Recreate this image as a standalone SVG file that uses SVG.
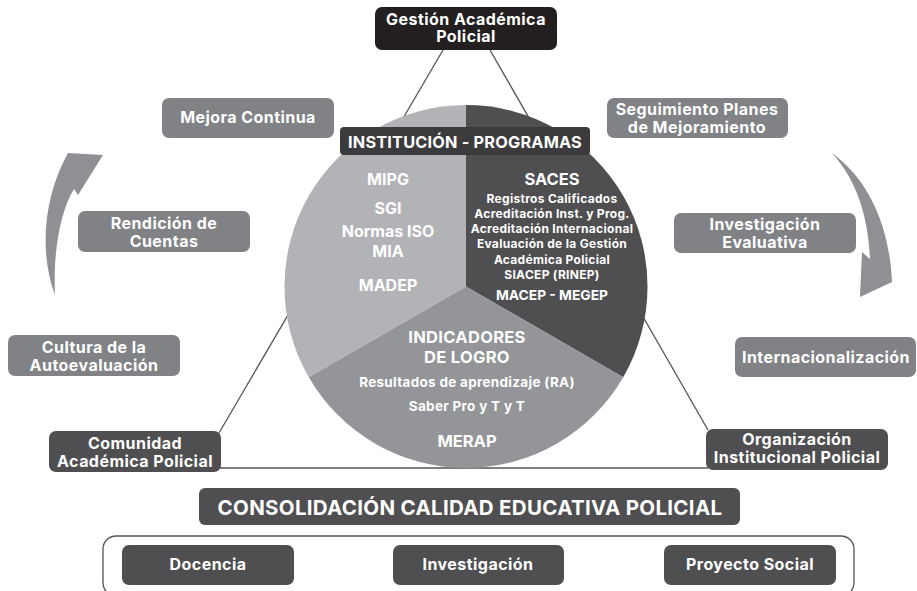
<svg xmlns="http://www.w3.org/2000/svg" width="917" height="591" viewBox="0 0 917 591">
<style>
text{font-family:Inter,"Liberation Sans",sans-serif;font-weight:700;fill:#fff;text-anchor:middle}
.t15{font-size:16px;letter-spacing:0.45px}
.sm{font-size:12px;letter-spacing:0.3px}
.mid{fill:#808285}
.dk{fill:#4f4f51}
.conn{stroke:#555;stroke-width:1.3;fill:none}
.arrow{fill:#8e9093}
</style>
<rect width="917" height="591" fill="#fff"/>
<g id="connectors">
<line class="conn" x1="443" y1="50" x2="219" y2="433"/>
<line class="conn" x1="490" y1="50" x2="708" y2="430"/>
<line class="conn" x1="220" y1="468" x2="708" y2="468"/>
<path class="arrow" d="M55,295 C40,255 42,200 68,153 L103,155 L78,195 L74,189 C60,212 53,252 55,295 Z"/>
<path class="arrow" d="M832,153 C872,182 890,232 892,282 L860,297 L862,252 L870,259 C868,214 856,180 832,153 Z"/>
<rect x="103" y="536" width="751" height="60" rx="13" fill="none" stroke="#555" stroke-width="1.3"/>
</g>
<g id="pie">
<path d="M466,286.5 L466,105 A181.5,181.5 0 0 0 308.8,377.25 Z" fill="#b1b3b6"/>
<path d="M466,286.5 L466,105 A181.5,181.5 0 0 1 623.2,377.25 Z" fill="#4f4f51"/>
<path d="M466,286.5 L308.8,377.25 A181.5,181.5 0 0 0 623.2,377.25 Z" fill="#939598"/>
<text x="388" y="185" font-size="16">MIPG</text>
<text x="388" y="214" font-size="16">SGI</text>
<text x="388" y="237" font-size="16">Normas ISO</text>
<text x="388" y="257" font-size="16">MIA</text>
<text x="388" y="291" font-size="16">MADEP</text>
<text x="552" y="185" font-size="16.5">SACES</text>
<text class="sm" x="552" y="203">Registros Calificados</text>
<text class="sm" x="552" y="218">Acreditación Inst. y Prog.</text>
<text class="sm" x="552" y="233">Acreditación Internacional</text>
<text class="sm" x="552" y="248">Evaluación de la Gestión</text>
<text class="sm" x="552" y="264">Académica Policial</text>
<text class="sm" x="552" y="279">SIACEP (RINEP)</text>
<text x="552" y="300" font-size="13.8">MACEP - MEGEP</text>
<text x="467" y="343" font-size="16.5" letter-spacing="0.3">INDICADORES</text>
<text x="467" y="363" font-size="16.5" letter-spacing="0.3">DE LOGRO</text>
<text x="467" y="387" font-size="13.5" letter-spacing="0.3">Resultados de aprendizaje (RA)</text>
<text x="467" y="411" font-size="13.5" letter-spacing="0.3">Saber Pro y T y T</text>
<text x="467" y="447" font-size="16.5">MERAP</text>
</g>
<g id="gestion"><rect x="375" y="7" width="182" height="43" rx="7" fill="#231f20"/><text class="t15" x="466" y="25">Gestión Académica</text><text class="t15" x="466" y="42">Policial</text></g>
<g id="institucion"><rect x="340" y="127" width="250" height="28" rx="4" fill="#3b3b3d"/><text x="465" y="148" font-size="16.3" letter-spacing="0.2">INSTITUCIÓN - PROGRAMAS</text></g>
<g id="mejora"><rect class="mid" x="162" y="98" width="172" height="40" rx="7"/><text class="t15" x="248" y="123">Mejora Continua</text></g>
<g id="rendicion"><rect class="mid" x="78" y="211" width="172" height="41" rx="7"/><text class="t15" x="164" y="229">Rendición de</text><text class="t15" x="164" y="247">Cuentas</text></g>
<g id="cultura"><rect class="mid" x="8" y="335" width="172" height="41" rx="7"/><text class="t15" x="94" y="353">Cultura de la</text><text class="t15" x="94" y="371">Autoevaluación</text></g>
<g id="comunidad"><rect class="dk" x="49" y="431" width="172" height="41" rx="7"/><text class="t15" x="135" y="449">Comunidad</text><text class="t15" x="135" y="467">Académica Policial</text></g>
<g id="seguimiento"><rect class="mid" x="607" y="98" width="181" height="40" rx="7"/><text class="t15" x="697" y="115">Seguimiento Planes</text><text class="t15" x="697" y="133">de Mejoramiento</text></g>
<g id="investigacion-evaluativa"><rect class="mid" x="674" y="213" width="182" height="40" rx="7"/><text class="t15" x="765" y="230">Investigación</text><text class="t15" x="765" y="248">Evaluativa</text></g>
<g id="internacionalizacion"><rect class="mid" x="735" y="337" width="181" height="40" rx="7"/><text class="t15" x="826" y="363">Internacionalización</text></g>
<g id="organizacion"><rect class="dk" x="706" y="429" width="182" height="41" rx="7"/><text class="t15" x="797" y="445">Organización</text><text class="t15" x="797" y="463">Institucional Policial</text></g>
<g id="consolidacion"><rect class="dk" x="199" y="488" width="541" height="37" rx="6"/><text x="470" y="515" font-size="20.5" letter-spacing="0.3">CONSOLIDACIÓN CALIDAD EDUCATIVA POLICIAL</text></g>
<g id="docencia"><rect class="dk" x="122" y="545" width="172" height="40" rx="7"/><text class="t15" x="208" y="570">Docencia</text></g>
<g id="investigacion"><rect class="dk" x="393" y="545" width="171" height="40" rx="7"/><text class="t15" x="478" y="570">Investigación</text></g>
<g id="proyecto"><rect class="dk" x="664" y="545" width="172" height="40" rx="7"/><text class="t15" x="750" y="570">Proyecto Social</text></g>
</svg>
